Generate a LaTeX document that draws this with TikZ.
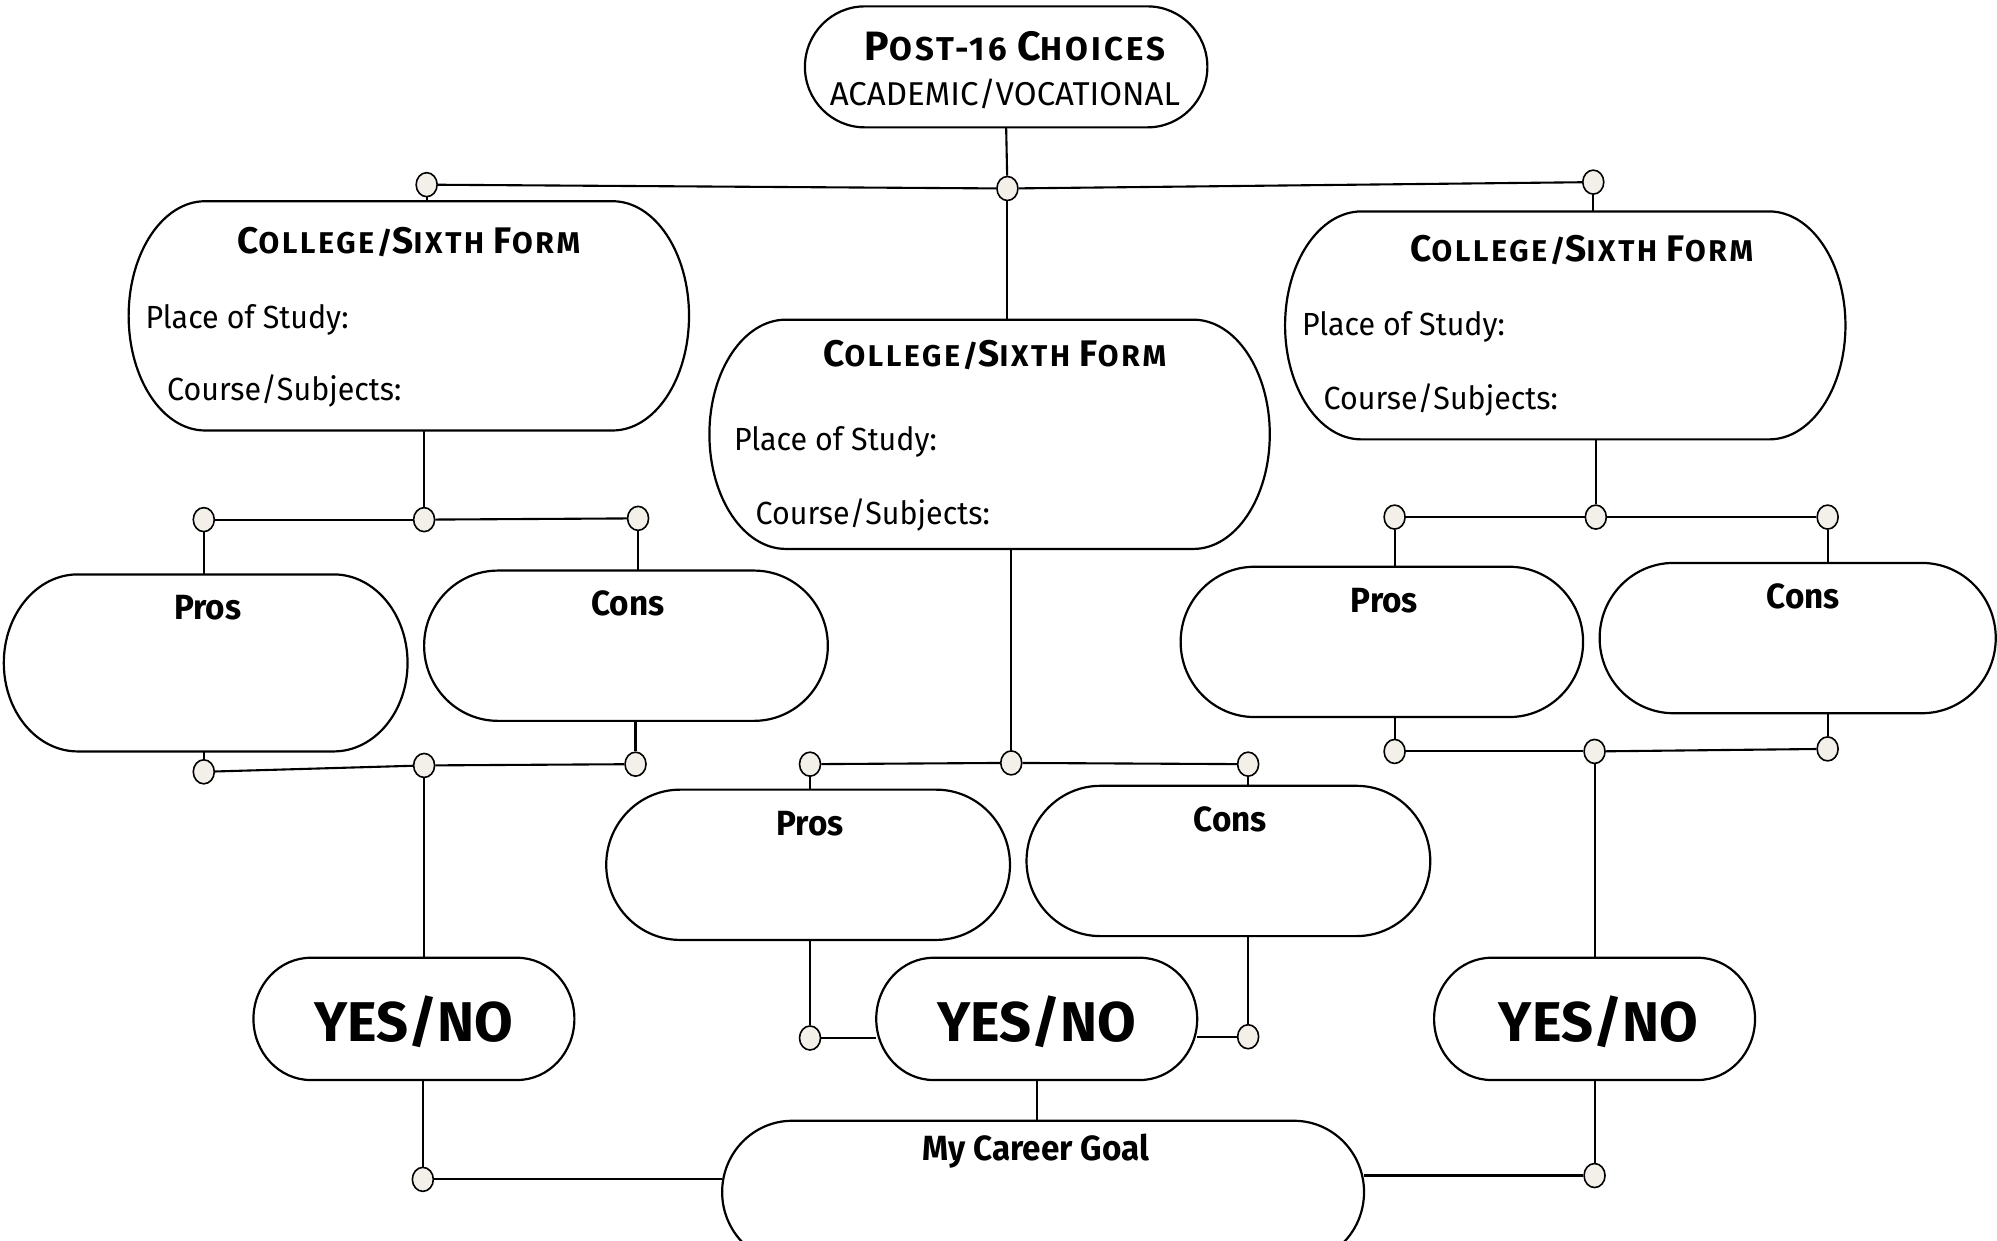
\documentclass[tikz,border=0pt]{standalone}
\usepackage{fontspec}
\setmainfont[FakeStretch=0.95]{Fira Sans}
\newfontfamily\dispfont[LetterSpace=9]{Fira Sans}
\newfontfamily\plainfont{Fira Sans}
\usetikzlibrary{shapes.geometric,fit,calc}
\definecolor{dotfill}{HTML}{F3F0EA}
\tikzset{
  pillline/.style={draw=black, line width=1.1pt, fill=white},
  conn/.style={draw=black, line width=1.05pt},
  dotnode/.style={ellipse, draw=black, line width=0.8pt, fill=dotfill, minimum width=10.5pt, minimum height=12pt, inner sep=0pt},
  frame/.style={inner sep=0pt, outer sep=0pt},
  bodytext/.style={font=\fontsize{16}{18}\selectfont, anchor=west, inner sep=0pt},
  boldtext/.style={font=\fontsize{17.5}{19}\selectfont\bfseries, inner sep=0pt},
  titletext/.style={font=\dispfont\bfseries\fontsize{15}{17}\selectfont, inner sep=0pt},
  headtext/.style={font=\dispfont\bfseries\fontsize{16.5}{18}\selectfont, inner sep=0pt},
  yesnotext/.style={font=\plainfont\bfseries\fontsize{28}{32}\selectfont, inner sep=0pt},
}
\newcommand\bigcapletter[1]{{\fontsize{18.5}{18}\selectfont #1}}
\newcommand\hugecapletter[1]{{\fontsize{20.5}{20}\selectfont #1}}
\newcommand\pill[6]{%
  \pgfmathsetmacro\pillA{#2+#6}\pgfmathsetmacro\pillB{#4-#6}%
  \pgfmathsetmacro\pillM{(#3+#5)/2}%
  \pgfmathsetmacro\pillKx{0.5523*#6}\pgfmathsetmacro\pillKy{0.5523*(#5-#3)/2}%
  \draw[pillline] (\pillA,#3) -- (\pillB,#3)
    .. controls (\pillB+\pillKx,#3) and (#4,\pillM-\pillKy) .. (#4,\pillM)
    .. controls (#4,\pillM+\pillKy) and (\pillB+\pillKx,#5) .. (\pillB,#5)
    -- (\pillA,#5)
    .. controls (\pillA-\pillKx,#5) and (#2,\pillM+\pillKy) .. (#2,\pillM)
    .. controls (#2,\pillM-\pillKy) and (\pillA-\pillKx,#3) .. cycle;
  \node[frame, fit={(#2,#3) (#4,#5)}] (#1) {};%
}
\begin{document}
\begin{tikzpicture}[x=0.6368pt,y=-0.6368pt]
\useasboundingbox (0,0) rectangle (1568,974);
\clip (0,0) rectangle (1568,974);
\fill[white] (0,0) rectangle (1568,974);

% boxes
\pill{top}{632}{5}{948}{100}{47}
\pill{lc}{101}{158}{541}{338}{60}
\pill{mc}{557}{251}{997}{431}{60}
\pill{rc}{1009}{166}{1449}{345}{60}
\pill{lp}{3}{451}{320}{590}{58}
\pill{ln}{333}{448}{650}{566}{58}
\pill{mp}{476}{620}{793}{738}{58}
\pill{mn}{806}{617}{1123}{735}{58}
\pill{rp}{927}{445}{1243}{563}{58}
\pill{rn}{1256}{442}{1567}{560}{58}
\pill{ly}{199}{752}{451}{848}{45}
\pill{my}{688}{752}{940}{848}{45}
\pill{ry}{1126}{752}{1378}{848}{45}
\pill{cg}{567}{880}{1071}{992}{55}

% texts
\node[headtext] (toptitle) at (797,36) {\hugecapletter{P}OST-16 \hugecapletter{C}HOICES};
\node[font=\plainfont\fontsize{16.5}{18}\selectfont, inner sep=0pt] (topsub) at (789,74) {ACADEMIC/VOCATIONAL};

\node[titletext] (lctitle) at (321,190) {\bigcapletter{C}OLLEGE/\bigcapletter{S}IXTH \bigcapletter{F}ORM};
\node[bodytext] (lcplace) at (114,251) {Place of Study:};
\node[bodytext] (lccourse) at (131,307) {Course/Subjects:};

\node[titletext] (mctitle) at (781,279) {\bigcapletter{C}OLLEGE/\bigcapletter{S}IXTH \bigcapletter{F}ORM};
\node[bodytext] (mcplace) at (576,347) {Place of Study:};
\node[bodytext] (mccourse) at (593,404) {Course/Subjects:};

\node[titletext] (rctitle) at (1242,196) {\bigcapletter{C}OLLEGE/\bigcapletter{S}IXTH \bigcapletter{F}ORM};
\node[bodytext] (rcplace) at (1022,257) {Place of Study:};
\node[bodytext] (rccourse) at (1039,314) {Course/Subjects:};

\node[boldtext] (lptext) at (163,477) {Pros};
\node[boldtext] (lntext) at (493,474) {Cons};
\node[boldtext] (mptext) at (636,647) {Pros};
\node[boldtext] (mntext) at (966,643) {Cons};
\node[boldtext] (rptext) at (1087,472) {Pros};
\node[boldtext] (rntext) at (1416,468) {Cons};

\node[yesnotext] (lytext) at (325,802) {YES/NO};
\node[yesnotext] (mytext) at (814,802) {YES/NO};
\node[yesnotext] (rytext) at (1255,802) {YES/NO};

\node[boldtext] (cgtext) at (813,904) {My Career Goal};

% dots
\node[dotnode] (dt) at (791,148) {};
\node[dotnode] (dl) at (335,145) {};
\node[dotnode] (dr) at (1251,143) {};
\node[dotnode] (dla) at (160,408) {};
\node[dotnode] (dlb) at (333,408) {};
\node[dotnode] (dlc) at (501,407) {};
\node[dotnode] (dld) at (160,606) {};
\node[dotnode] (dle) at (333,601) {};
\node[dotnode] (dlf) at (499,600) {};
\node[dotnode] (dma) at (636,600) {};
\node[dotnode] (dmb) at (794,599) {};
\node[dotnode] (dmc) at (980,600) {};
\node[dotnode] (dmd) at (636,815) {};
\node[dotnode] (dme) at (980,814) {};
\node[dotnode] (dra) at (1095,406) {};
\node[dotnode] (drb) at (1253,406) {};
\node[dotnode] (drc) at (1435,406) {};
\node[dotnode] (drd) at (1095,590) {};
\node[dotnode] (dre) at (1252,590) {};
\node[dotnode] (drf) at (1435,588) {};
\node[dotnode] (dga) at (332,926) {};
\node[dotnode] (dgb) at (1252,923) {};

% connectors
\draw[conn] (top.south) -- (dt);
\draw[conn] (dl) -- (dt);
\draw[conn] (dt) -- (dr);
\draw[conn] (dl) -- (dl |- lc.north);
\draw[conn] (dt) -- (dt |- mc.north);
\draw[conn] (dr) -- (dr |- rc.north);

\draw[conn] (dlb |- lc.south) -- (dlb);
\draw[conn] (dla) -- (dlb);
\draw[conn] (dlb) -- (dlc);
\draw[conn] (dla) -- (dla |- lp.north);
\draw[conn] (dlc) -- (dlc |- ln.north);
\draw[conn] (dld |- lp.south) -- (dld);
\draw[conn] (dlf |- ln.south) -- (dlf);
\draw[conn] (dld) -- (dle);
\draw[conn] (dle) -- (dlf);
\draw[conn] (dle) -- (dle |- ly.north);

\draw[conn] (dmb |- mc.south) -- (dmb);
\draw[conn] (dma) -- (dmb);
\draw[conn] (dmb) -- (dmc);
\draw[conn] (dma) -- (dma |- mp.north);
\draw[conn] (dmc) -- (dmc |- mn.north);
\draw[conn] (dmd |- mp.south) -- (dmd);
\draw[conn] (dmd) -- (dmd -| my.west);
\draw[conn] (dme |- mn.south) -- (dme);
\draw[conn] (dme) -- (dme -| my.east);
\draw[conn] (my.south) -- (my.south |- cg.north);

\draw[conn] (dga |- ly.south) -- (dga);
\draw[conn] (dga) -- (dga -| cg.west);
\draw[conn] (dgb |- ry.south) -- (dgb);
\draw[conn] (dgb) -- (dgb -| cg.east);

\draw[conn] (drb |- rc.south) -- (drb);
\draw[conn] (dra) -- (drb);
\draw[conn] (drb) -- (drc);
\draw[conn] (dra) -- (dra |- rp.north);
\draw[conn] (drc) -- (drc |- rn.north);
\draw[conn] (drd |- rp.south) -- (drd);
\draw[conn] (drf |- rn.south) -- (drf);
\draw[conn] (drd) -- (dre);
\draw[conn] (dre) -- (drf);
\draw[conn] (dre) -- (dre |- ry.north);
\end{tikzpicture}
\end{document}
